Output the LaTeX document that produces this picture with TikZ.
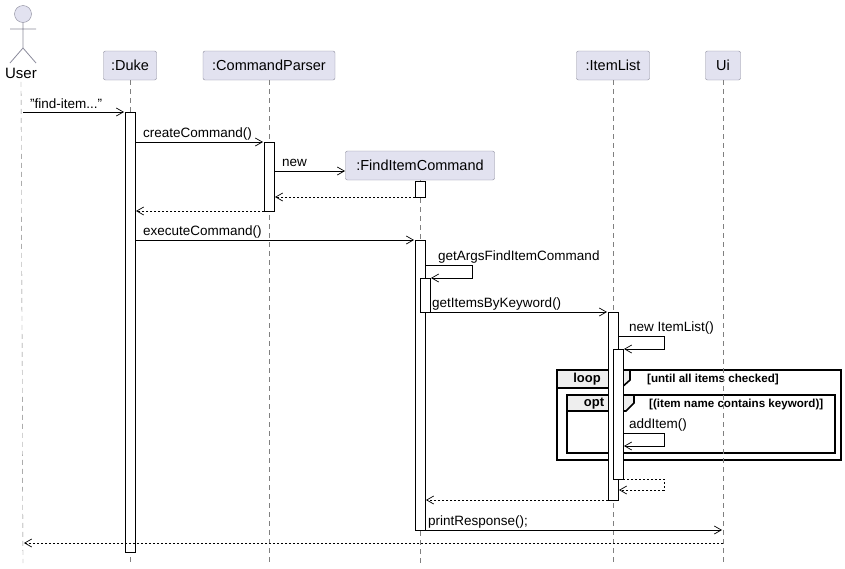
\documentclass[tikz,border=0pt]{standalone}
\usepackage{fontspec}
\setmainfont{Liberation Sans}
\usetikzlibrary{arrows.meta,positioning}
\definecolor{partfill}{HTML}{E2E2F0}
\definecolor{partline}{HTML}{8A8A9A}
\definecolor{tabfill}{HTML}{EEEEEE}
\tikzset{
  part/.style={draw=partline, fill=partfill, rounded corners=2pt, minimum height=29pt, inner xsep=6pt, font=\fontsize{14.5}{16}\selectfont},
  life/.style={draw=gray, dashed, dash pattern=on 5pt off 4pt, thin},
  act/.style={draw, fill=white, line width=0.7pt},
  msg/.style={-{Straight Barb[length=7pt,width=8pt]}, line width=0.7pt},
  ret/.style={msg, dashed, dash pattern=on 2pt off 2pt},
  lbl/.style={font=\fontsize{13.5}{15}\selectfont, inner sep=0pt, anchor=base west},
  frm/.style={line width=1.6pt},
  cond/.style={font=\bfseries\fontsize{11.6}{13}\selectfont, inner sep=0pt, anchor=base west}
}
\begin{document}
\begin{tikzpicture}[x=1pt,y=-1pt]
\useasboundingbox (0,0) rectangle (845,568);
% loop / opt frames
\draw[frm] (557,370) rectangle (841,460);
\draw[fill=tabfill, frm] (557,370) -- (630,370) -- (630,380) -- (621,388) -- (557,388) -- cycle;
\node[font=\bfseries\fontsize{13}{15}\selectfont, inner sep=0pt] (loopt) at (587,379) {loop};
\node[cond] (loopc) at (647,382) {[until all items checked]};
\draw[frm] (567,395) rectangle (835,453);
\draw[fill=tabfill, frm] (567,395) -- (634,395) -- (634,403) -- (626,411) -- (567,411) -- cycle;
\node[font=\bfseries\fontsize{13}{15}\selectfont, inner sep=0pt] (optt) at (594,404) {opt};
\node[cond] (optc) at (649,407) {[(item name contains keyword)]};
% participants
\node[part, minimum width=53pt] (duke) at (130,65.5) {:Duke};
\node[part, minimum width=132pt] (parser) at (269,65.5) {:CommandParser};
\node[part, minimum width=73pt] (list) at (613,65.5) {:ItemList};
\node[part, minimum width=35pt] (ui) at (723,65.5) {Ui};
\node[part, minimum width=149pt] (find) at (420,165.5) {:FindItemCommand};
\coordinate (findin) at (345,171);
% actor
\node[circle, draw=partline, fill=partfill, minimum size=17pt, inner sep=0pt] (head) at (23,14) {};
\draw[partline, line width=0.8pt] (head.south) -- (23,48) (10,29) -- (36,29) (10,63) -- (23,48) -- (36,63);
\node[font=\fontsize{15}{17}\selectfont] (user) at (21,73) {User};
% lifelines
\draw[life] (user.south) -- (23,563);
\draw[life] (duke.south) -- (130,563);
\draw[life] (parser.south) -- (269,563);
\draw[life] (find.south) -- (420,563);
\draw[life] (list.south) -- (613,563);
\draw[life] (ui.south) -- (723,563);
% activations
\draw[act] (125,112) rectangle (135,552);
\draw[act] (264,142) rectangle (274,211);
\draw[act] (415,181) rectangle (425,197);
\draw[act] (415,240) rectangle (425,530);
\draw[act] (420,278) rectangle (430,312);
\draw[act] (608,312) rectangle (618,500);
\draw[act] (613,349) rectangle (623,479);
% messages
\draw[msg] (23,112) -- (124,112);
\node[lbl] (m1) at (30,108) {"find-item..."};
\draw[msg] (135,142) -- (263,142);
\node[lbl] (m2) at (143,137) {createCommand()};
\draw[msg] (274,171) -- (findin);
\node[lbl] (m3) at (282,166) {new};
\draw[ret] (415,197) -- (275,197);
\draw[ret] (264,211) -- (136,211);
\draw[msg] (135,240) -- (414,240);
\node[lbl] (m4) at (143,235) {executeCommand()};
\draw[msg] (425,265) -- (472,265) -- (472,278) -- (431,278);
\node[lbl] (m5) at (438,260) {getArgsFindItemCommand};
\draw[msg] (430,312) -- (607,312);
\node[lbl] (m6) at (432,307) {getItemsByKeyword()};
\draw[msg] (618,336) -- (664,336) -- (664,349) -- (624,349);
\node[lbl] (m7) at (629,331) {new ItemList()};
\draw[msg] (623,433) -- (664,433) -- (664,446) -- (624,446);
\node[lbl] (m8) at (629,428) {addItem()};
% returns
\draw[ret] (623,479) -- (664,479) -- (664,490) -- (619,490);
\draw[ret] (608,500) -- (426,500);
\draw[msg] (415,530) -- (722,530);
\node[lbl] (m9) at (428,525) {printResponse();};
\draw[ret] (723,543) -- (24,543);
\end{tikzpicture}
\end{document}
